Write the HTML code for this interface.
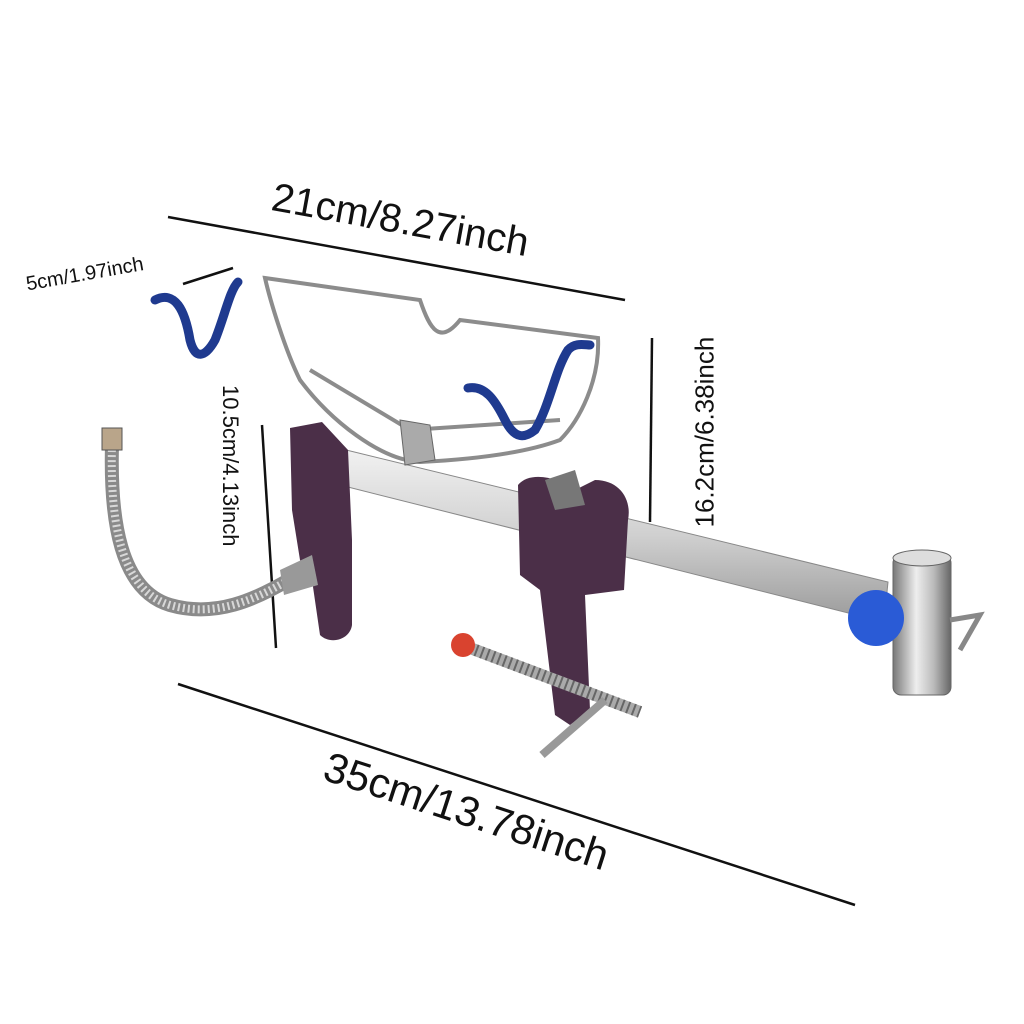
<!DOCTYPE html>
<html><head><meta charset="utf-8"><style>
html,body{margin:0;padding:0;background:#fff;}
#c{position:relative;width:1024px;height:1024px;overflow:hidden;background:#fff;}
svg{position:absolute;left:0;top:0;}
.t{position:absolute;font-family:"Liberation Sans","DejaVu Sans",sans-serif;color:#111;white-space:nowrap;transform-origin:center center;}
</style></head><body><div id="c">
<svg width="1024" height="1024" viewBox="0 0 1024 1024">
<defs>
<linearGradient id="bar" x1="0" y1="0" x2="0" y2="1"><stop offset="0" stop-color="#f2f2f2"/><stop offset="0.5" stop-color="#d0d0d0"/><stop offset="1" stop-color="#9a9a9a"/></linearGradient>
<linearGradient id="cup" x1="0" y1="0" x2="1" y2="0"><stop offset="0" stop-color="#777"/><stop offset="0.4" stop-color="#eee"/><stop offset="0.7" stop-color="#bbb"/><stop offset="1" stop-color="#666"/></linearGradient>
</defs>
<!-- dimension lines -->
<g stroke="#111" stroke-width="2.5">
<line x1="168" y1="217" x2="625" y2="300"/>
<line x1="183" y1="284" x2="233" y2="268"/>
<line x1="262" y1="425" x2="276" y2="648"/>
<line x1="652" y1="338" x2="650" y2="522"/>
<line x1="178" y1="684" x2="855" y2="905"/>
</g>
<!-- gooseneck -->
<path d="M112 445 C110 520 120 590 170 605 C215 618 255 600 292 578" fill="none" stroke="#8a8a8a" stroke-width="14"/>
<path d="M112 445 C110 520 120 590 170 605 C215 618 255 600 292 578" fill="none" stroke="#d8d8d8" stroke-width="8" stroke-dasharray="2 3"/>
<rect x="102" y="428" width="20" height="22" fill="#b9a58a" stroke="#555"/>
<!-- wire basket -->
<g fill="none" stroke="#8c8c8c" stroke-width="4">
<path d="M265 278 L420 300 C430 330 440 345 460 320 L598 338 C600 380 580 420 560 440 C520 455 460 460 420 462 C380 460 330 420 300 380 C285 350 270 300 265 278 Z"/>
<path d="M310 370 L410 430 L560 420"/>
</g>
<!-- blue hooks -->
<g fill="none" stroke="#1f3a8f" stroke-width="9" stroke-linecap="round">
<path d="M155 300 C175 290 185 310 190 340 C195 360 205 358 215 340 C225 315 230 290 238 282"/>
<path d="M468 388 C485 385 495 400 505 420 C515 440 525 438 535 430 C550 405 555 370 568 350 C575 342 585 345 590 345"/>
</g>
<!-- bar -->
<polygon points="338,448 888,582 884,622 336,484" fill="url(#bar)" stroke="#888"/>
<!-- wing nut -->
<polygon points="400,420 430,425 435,460 405,465" fill="#aaa" stroke="#666"/>
<!-- left clamp -->
<path d="M290 428 L322 422 L348 450 L352 540 L352 625 C350 640 330 645 320 635 L312 580 L300 560 L292 510 Z" fill="#4b2f48"/>
<path d="M280 570 L312 555 L318 585 L284 595 Z" fill="#999"/>
<!-- center clamp -->
<path d="M518 485 C530 470 560 478 575 490 L595 480 C620 480 632 500 628 520 L624 590 L585 595 L590 710 L570 725 L555 715 L540 590 L520 575 Z" fill="#4b2f48"/>
<path d="M545 480 L575 470 L585 505 L555 510 Z" fill="#777"/>
<!-- screw -->
<line x1="470" y1="648" x2="640" y2="712" stroke="#aaa" stroke-width="12"/>
<line x1="470" y1="648" x2="640" y2="712" stroke="#666" stroke-width="12" stroke-dasharray="2 4"/>
<circle cx="463" cy="645" r="12" fill="#d9432f"/>
<line x1="542" y1="755" x2="605" y2="700" stroke="#999" stroke-width="8"/>
<!-- cup -->
<rect x="893" y="555" width="58" height="140" rx="8" fill="url(#cup)" stroke="#666"/>
<ellipse cx="922" cy="558" rx="29" ry="8" fill="#ddd" stroke="#666"/>
<path d="M950 620 L980 615 L960 650" fill="none" stroke="#888" stroke-width="5"/>
<!-- blue knob -->
<circle cx="876" cy="618" r="28" fill="#2a5bd6"/>
</svg>
<div class="t" style="left:270px;top:200px;width:280px;font-size:40px;transform:rotate(10.3deg);">21cm/8.27inch</div>
<div class="t" style="left:25px;top:258px;width:180px;font-size:20px;transform:rotate(-10deg);">5cm/1.97inch</div>
<div class="t" style="left:130px;top:472px;width:200px;font-size:22px;transform:rotate(90deg);">10.5cm/4.13inch</div>
<div class="t" style="left:585px;top:392px;width:240px;font-size:26px;transform:rotate(-90deg);">16.2cm/6.38inch</div>
<div class="t" style="left:318px;top:788px;width:300px;font-size:42px;transform:rotate(18deg);">35cm/13.78inch</div>
</div></body></html>
